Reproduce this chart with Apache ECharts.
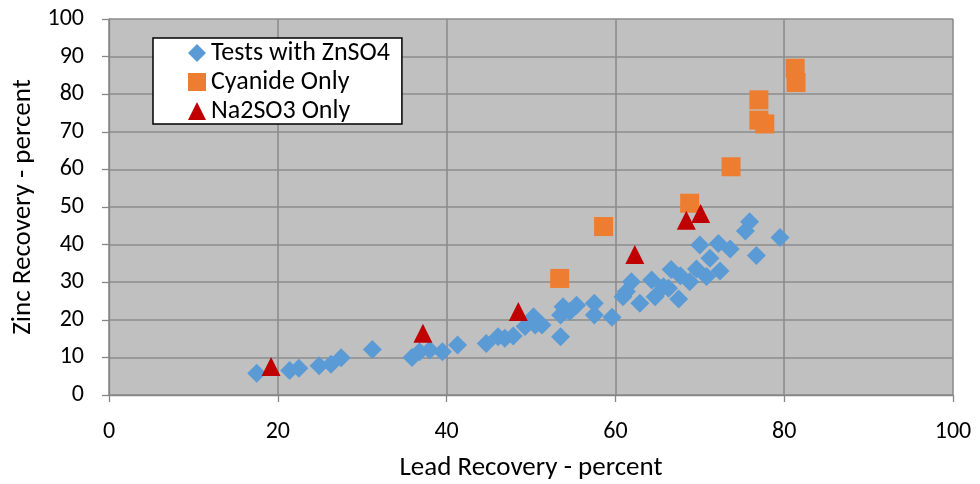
<!DOCTYPE html>
<html>
<head>
<meta charset="utf-8">
<script src="https://cdn.jsdelivr.net/npm/echarts@6/dist/echarts.min.js"></script>
<style>
  html, body { margin: 0; padding: 0; background: #ffffff; }
  #chart { width: 980px; height: 484px; }
</style>
</head>
<body>
<div id="chart"></div>
<script>
// Lead vs zinc recovery, percent, for three reagent schemes: [lead, zinc]
const testsWithZnSO4 = [
  [17.5, 5.8], [21.4, 6.5], [22.5, 7.1], [24.9, 7.8], [26.3, 8.2], [27.5, 9.9],
  [31.2, 12.1], [35.9, 10.0], [36.8, 11.5], [38.0, 12.0], [39.5, 11.5], [41.3, 13.3],
  [44.7, 13.7], [46.1, 15.5], [46.9, 15.1], [47.9, 15.7], [49.3, 18.2], [50.3, 20.8],
  [50.5, 18.6], [51.3, 18.6], [53.5, 15.5], [53.5, 21.3], [53.8, 23.5], [54.6, 22.2],
  [55.4, 23.9], [57.5, 24.4], [57.5, 21.3], [59.6, 20.7], [60.9, 26.1], [61.3, 27.5],
  [61.9, 30.1], [62.9, 24.4], [64.3, 30.6], [64.7, 26.1], [65.7, 28.8], [66.3, 28.4],
  [66.6, 33.4], [67.7, 31.7], [67.5, 25.5], [68.8, 30.1], [69.6, 33.5], [70.0, 39.9],
  [70.8, 31.5], [71.2, 36.4], [72.2, 40.3], [72.4, 33.0], [73.6, 38.8], [75.4, 43.6],
  [75.9, 46.1], [76.7, 37.1], [79.5, 41.9]
];
const cyanideOnly = [
  [53.4, 31.0], [58.6, 44.8], [68.8, 51.0], [73.7, 60.7], [77.0, 73.1],
  [77.7, 72.1], [77.0, 78.5], [81.3, 86.9], [81.4, 83.1]
];
const na2so3Only = [
  [19.2, 7.6], [37.2, 16.4], [48.5, 22.2], [62.3, 37.4], [68.4, 46.5], [70.1, 48.3]
];

const xTicks = { min: 0, max: 100, step: 20 };
const yTicks = { min: 0, max: 100, step: 10 };

const FONT = 'Carlito, Lato, "Open Sans", sans-serif';
const gridGray = '#8c8c8c';
const axisGray = '#868686';

const chart = echarts.init(document.getElementById('chart'), null, { renderer: 'canvas' });

const axisCommon = {
  type: 'value',
  nameLocation: 'middle',
  nameTextStyle: { fontFamily: FONT, fontSize: 27, color: '#000' },
  axisLine: { show: true, lineStyle: { color: axisGray, width: 1.3 } },
  axisTick: { show: true, inside: false, length: 7, lineStyle: { color: axisGray, width: 1.3 } },
  axisLabel: { fontFamily: FONT, fontSize: 24, color: '#000', margin: 25 },
  splitLine: { show: true, lineStyle: { color: gridGray, width: 1.6 } }
};

chart.setOption({
  animation: false,
  backgroundColor: '#ffffff',
  grid: {
    left: 109, right: 27, top: 19, bottom: 89,
    outerBoundsMode: 'none',
    containLabel: false,
    show: true, backgroundColor: '#c0c0c0', borderWidth: 0
  },
  legend: {
    orient: 'vertical',
    left: 153, top: 38,
    backgroundColor: '#ffffff',
    borderColor: '#000000',
    borderWidth: 1.5,
    borderRadius: 0,
    padding: [2, 12, 0, 35],
    itemGap: 3,
    itemWidth: 18, itemHeight: 18,
    textStyle: { fontFamily: FONT, fontSize: 26, lineHeight: 26, color: '#000' },
    data: ['Tests with ZnSO4', 'Cyanide Only', 'Na2SO3 Only']
  },
  xAxis: Object.assign({}, axisCommon, {
    name: 'Lead Recovery - percent',
    nameGap: 60,
    min: xTicks.min, max: xTicks.max, interval: xTicks.step
  }),
  yAxis: Object.assign({}, axisCommon, {
    name: 'Zinc Recovery - percent',
    nameGap: 70,
    nameRotate: 90,
    min: yTicks.min, max: yTicks.max, interval: yTicks.step
  }),
  series: [
    {
      name: 'Tests with ZnSO4', type: 'scatter', symbol: 'diamond', symbolSize: 19,
      itemStyle: { color: '#5b9bd5', opacity: 1 },
      data: testsWithZnSO4
    },
    {
      name: 'Cyanide Only', type: 'scatter', symbol: 'rect', symbolSize: 19,
      itemStyle: { color: '#ed7d31', opacity: 1 },
      data: cyanideOnly
    },
    {
      name: 'Na2SO3 Only', type: 'scatter', symbol: 'triangle', symbolSize: 19,
      itemStyle: { color: '#c00000', opacity: 1 },
      data: na2so3Only
    }
  ]
});
</script>
</body>
</html>
